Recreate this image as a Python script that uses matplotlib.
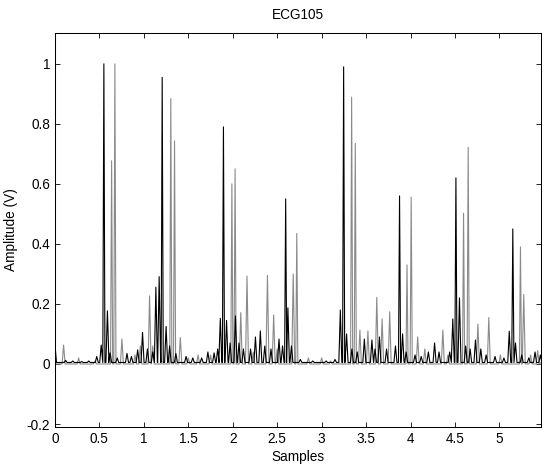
import numpy as np
import matplotlib.pyplot as plt

# peaks: (position, height)
black_peaks = [
    (0.0, 0.065), (0.12, 0.012), (0.2, 0.01), (0.3, 0.008), (0.38, 0.01),
    (0.47, 0.025), (0.52, 0.063), (0.55, 1.0), (0.59, 0.177), (0.62, 0.037),
    (0.7, 0.02), (0.81, 0.035), (0.86, 0.025), (0.93, 0.047), (0.985, 0.105),
    (1.04, 0.05), (1.1, 0.04), (1.135, 0.256), (1.172, 0.291), (1.206, 0.955),
    (1.25, 0.125), (1.29, 0.06), (1.36, 0.035), (1.475, 0.025), (1.55, 0.02),
    (1.65, 0.02), (1.72, 0.04), (1.79, 0.037), (1.83, 0.05), (1.86, 0.152),
    (1.895, 0.79), (1.93, 0.145), (1.97, 0.07), (2.03, 0.16), (2.07, 0.07),
    (2.12, 0.05), (2.2, 0.05), (2.255, 0.09), (2.31, 0.11), (2.36, 0.06),
    (2.43, 0.05), (2.52, 0.083), (2.56, 0.06), (2.595, 0.55), (2.62, 0.187),
    (2.66, 0.06), (2.76, 0.015), (2.9, 0.01), (3.05, 0.01), (3.15, 0.015),
    (3.21, 0.18), (3.247, 0.99), (3.28, 0.1), (3.34, 0.05), (3.4, 0.04),
    (3.48, 0.083), (3.565, 0.08), (3.6, 0.05), (3.65, 0.09), (3.73, 0.05),
    (3.83, 0.06), (3.876, 0.56), (3.91, 0.1), (3.95, 0.04), (4.05, 0.03),
    (4.12, 0.025), (4.2, 0.04), (4.27, 0.07), (4.32, 0.04), (4.44, 0.04),
    (4.475, 0.15), (4.51, 0.62), (4.55, 0.22), (4.62, 0.06), (4.67, 0.05),
    (4.73, 0.08), (4.79, 0.05), (4.85, 0.03), (4.95, 0.025), (5.05, 0.02),
    (5.11, 0.109), (5.15, 0.45), (5.18, 0.07), (5.25, 0.03), (5.33, 0.02),
    (5.4, 0.04), (5.46, 0.03),
]

gray_peaks = [
    (0.097, 0.063), (0.266, 0.02), (0.45, 0.01), (0.637, 0.677), (0.674, 1.0),
    (0.753, 0.083), (0.9, 0.03), (0.96, 0.06), (1.064, 0.227), (1.1, 0.06),
    (1.303, 0.884), (1.345, 0.743), (1.41, 0.088), (1.5, 0.02), (1.61, 0.03),
    (1.75, 0.03), (1.99, 0.6), (2.026, 0.65), (2.09, 0.171), (2.16, 0.293),
    (2.23, 0.04), (2.39, 0.295), (2.46, 0.163), (2.5, 0.05), (2.68, 0.30),
    (2.72, 0.435), (2.85, 0.02), (3.0, 0.02), (3.1, 0.01), (3.337, 0.889),
    (3.378, 0.735), (3.43, 0.113), (3.52, 0.11), (3.62, 0.222), (3.68, 0.15),
    (3.765, 0.174), (3.96, 0.33), (4.007, 0.556), (4.08, 0.09), (4.16, 0.05),
    (4.363, 0.113), (4.42, 0.03), (4.596, 0.502), (4.648, 0.722), (4.757, 0.133),
    (4.88, 0.155), (5.01, 0.03), (5.236, 0.39), (5.273, 0.232), (5.35, 0.03),
    (5.43, 0.045),
]

x_ticks = [0, 0.5, 1, 1.5, 2, 2.5, 3, 3.5, 4, 4.5, 5]
x_labels = ['0', '0.5', '1', '1.5', '2', '2.5', '3', '3.5', '4', '4.5', '5']
y_ticks = [-0.2, 0, 0.2, 0.4, 0.6, 0.8, 1]
y_labels = ['-0.2', '0', '0.2', '0.4', '0.6', '0.8', '1']

X_END = 5.47


def spike_line(peaks, base):
    xs, ys = [0.0], [base]
    for p, h in sorted(peaks):
        # tall spikes are narrow, small bumps a bit wider
        w = 0.012 if h > 0.3 else 0.017
        xs += [p - w, p, p + w]
        ys += [base, h, base]
    xs.append(X_END)
    ys.append(base)
    return np.array(xs), np.array(ys)


plt.rcParams['font.family'] = ['Liberation Sans', 'DejaVu Sans']
plt.rcParams['font.size'] = 9.8

fig = plt.figure(figsize=(5.47, 4.68), dpi=100)
ax = fig.add_axes([0.1005, 0.0876, 0.889, 0.842])

gx, gy = spike_line(gray_peaks, 0.0)
bx, by = spike_line(black_peaks, 0.005)
ax.plot(gx, gy, color='#8a8a8a', lw=0.8)
ax.plot(bx, by, color='black', lw=0.8)

ax.set_xlim(0, X_END)
ax.set_ylim(-0.21, 1.103)
ax.set_xticks(x_ticks)
ax.set_xticklabels(x_labels)
ax.set_yticks(y_ticks)
ax.set_yticklabels(y_labels)
ax.tick_params(direction='in', top=True, right=True, length=3.5, width=0.6)
for s in ax.spines.values():
    s.set_linewidth(0.75)

ax.set_title('ECG105', fontsize=9.8, pad=10)
ax.set_xlabel('Samples', labelpad=3)
ax.set_ylabel('Amplitude (V)', labelpad=6)

fig.savefig('out.png', dpi=100)
